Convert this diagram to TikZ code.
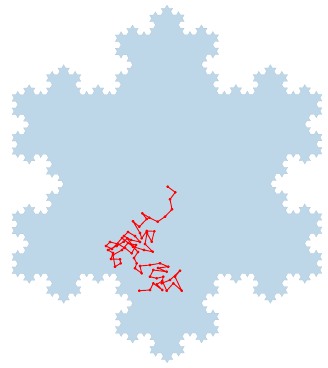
\documentclass[tikz,border=0pt]{standalone}
\usetikzlibrary{decorations.fractals}

\begin{document}
\begin{tikzpicture}[x=0.03cm,y=-0.03cm,flake/.style={fill={rgb,255:red,189;green,214;blue,232},draw={rgb,255:red,176;green,200;blue,218},line width=0.2pt,decoration=Koch snowflake},walk/.style={draw=red,line width=0.8pt,line join=round,mark=*,mark size=0.8pt,mark options={fill=red,draw=red}}]
\useasboundingbox (0,0) rectangle (327,368);
% level 4 snowflake
\path[flake] decorate{decorate{decorate{decorate{(167,5) -- (322,273.5) -- (12,273.5) -- (167,5)}}}};
% random walk
\draw[walk] plot coordinates {(167.7,186.7) (175.3,192.3) (170,199.3) (172,209.3) (165,216.7) (157.7,221.7) (149.3,217.7) (142.3,213.3) (146.7,219) (139.3,226.7) (133,221.3) (140,233) (141.7,238.3) (146.7,231) (154.3,231.3) (151.7,241.7) (147,233) (145,244) (152.7,251.7) (144,250) (133.3,246.7) (127.3,238.3) (123.7,241.7) (116.7,246) (108,250) (113,253) (111,259) (120,259.3) (120.7,263.3) (115,266.7) (113,255) (122,250) (128,243) (136,245) (131.7,253.3) (125,248) (118,244) (110,242) (106,246) (112,249) (124,236) (131,240) (140,242) (135,236) (128,232) (122,238) (133,246.7) (138,252) (134,258) (136.7,263.3) (135,268.3) (141.7,273.3) (140,266) (150,265) (160,263.3) (168.3,266.7) (158,268) (166.7,271.7) (153.3,270) (150,276.7) (156.7,278.3) (163.3,276.7) (161.7,283.3) (170,280) (180,270.7) (175,276.7) (181.7,290.7) (173.3,283.3) (166.7,290.7) (162.3,281) (156.7,284.3) (162.3,290) (153.3,283.3) (150,290) (139.3,290.7)};
\end{tikzpicture}
\end{document}
